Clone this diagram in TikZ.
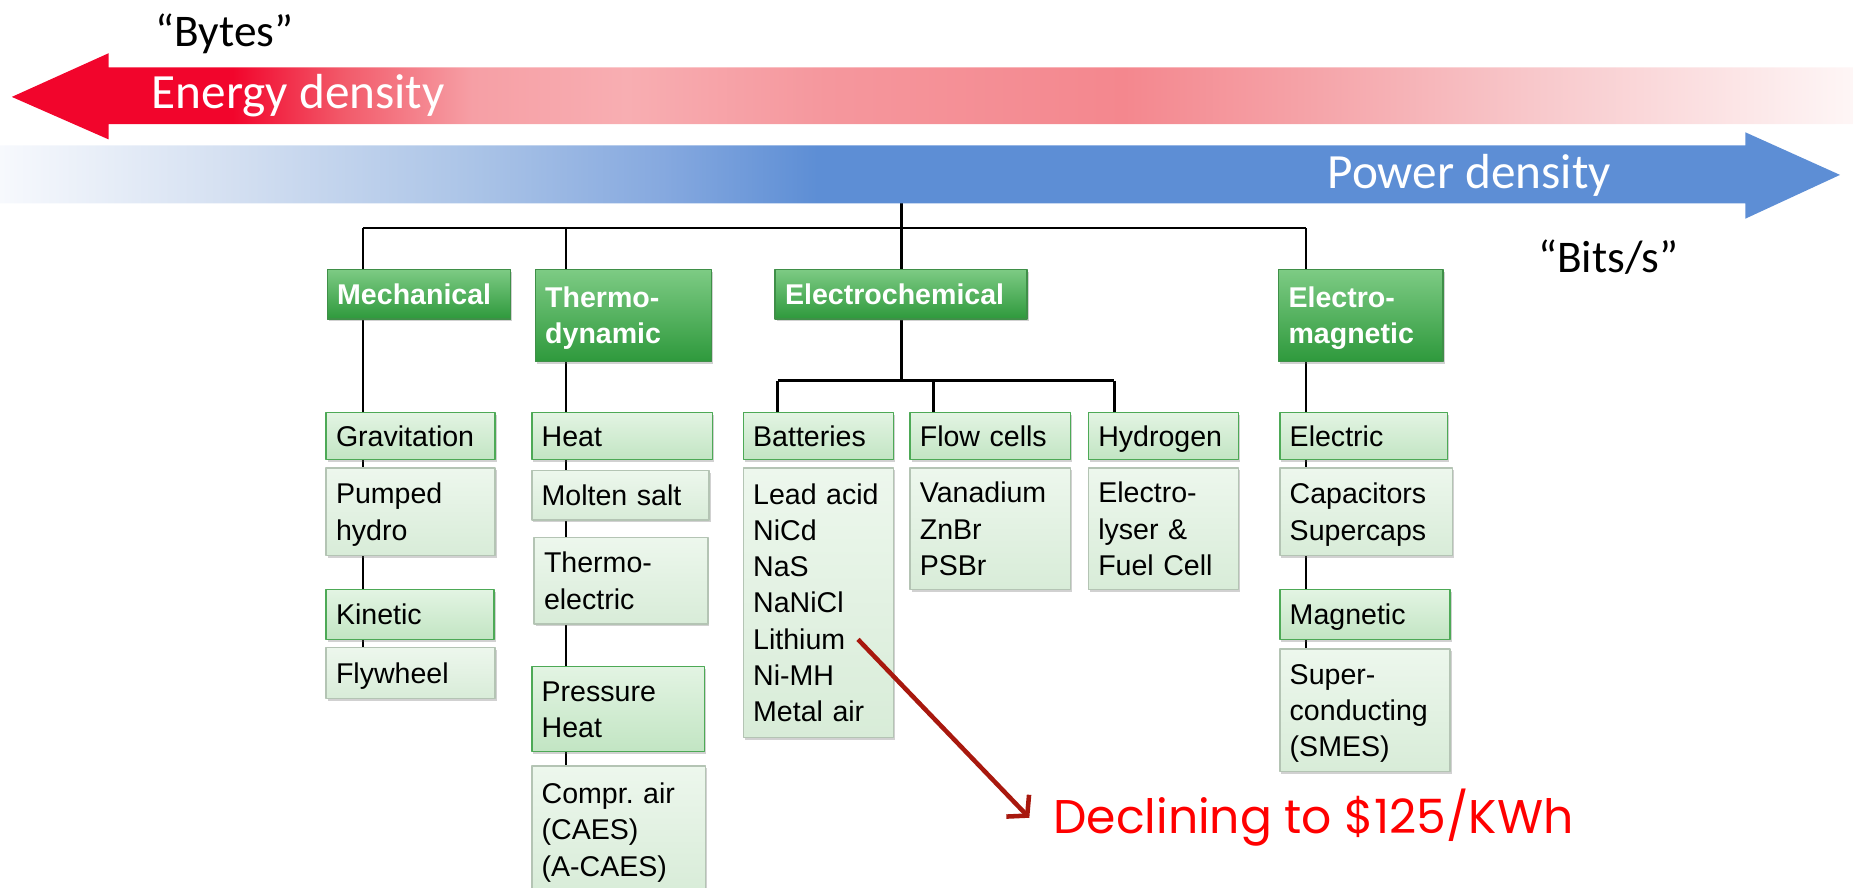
\documentclass[tikz,border=0pt]{standalone}
\usepackage{fontspec}
\setmainfont{Liberation Sans}
\newfontfamily\calfont{Carlito}
\newfontfamily\gothfont{Poppins}
\usetikzlibrary{arrows.meta,shadows,backgrounds}

\definecolor{enA}{HTML}{F2052C}
\definecolor{enB}{HTML}{F25A6A}
\definecolor{enC}{HTML}{F69FA5}
\definecolor{enD}{HTML}{F8AEB2}
\definecolor{enE}{HTML}{F5979D}
\definecolor{enF}{HTML}{F4878E}
\definecolor{enG}{HTML}{F5A2A7}
\definecolor{enH}{HTML}{F8C8CB}
\definecolor{enI}{HTML}{FEF6F6}
\definecolor{pwA}{HTML}{F7F9FD}
\definecolor{pwB}{HTML}{D3DFF1}
\definecolor{pwC}{HTML}{ABC4E7}
\definecolor{pwD}{HTML}{86A9DF}
\definecolor{pwE}{HTML}{5D8ED5}
\definecolor{hdrtop}{HTML}{7DCB84}
\definecolor{hdrbot}{HTML}{2E993C}
\definecolor{hdrline}{HTML}{3F8F48}
\definecolor{midtop}{HTML}{E3F4E3}
\definecolor{midbot}{HTML}{C2E5C3}
\definecolor{midline}{HTML}{4DA956}
\definecolor{leaftop}{HTML}{EDF7ED}
\definecolor{leafbot}{HTML}{D8ECD8}
\definecolor{leafline}{HTML}{B4C4B4}
\definecolor{lithred}{HTML}{A8180E}

\pgfdeclarehorizontalshading{energyband}{100bp}{color(0bp)=(enA); color(31bp)=(enA);
  color(34bp)=(enB); color(37.5bp)=(enC); color(41.7bp)=(enD); color(47.1bp)=(enE);
  color(55.2bp)=(enF); color(60bp)=(enG); color(66.4bp)=(enH); color(75bp)=(enI);
  color(100bp)=(enI)}
\pgfdeclarehorizontalshading{powerband}{100bp}{color(0bp)=(pwA); color(25bp)=(pwA);
  color(31.4bp)=(pwB); color(37.8bp)=(pwC); color(43bp)=(pwD); color(47.2bp)=(pwE);
  color(75bp)=(pwE); color(100bp)=(pwE)}

\newcommand{\boxfont}{\fontsize{14.5}{18.4}\selectfont\frenchspacing}
\newcommand{\boxstrut}{\rule[-4pt]{0pt}{18.4pt}}

\tikzset{
  boxbase/.style={align=left, inner xsep=5pt, inner ysep=1pt, line width=0.8pt,
    font=\boxfont, execute at begin node=\boxstrut, execute at end node=\boxstrut,
    drop shadow={shadow xshift=0.8pt, shadow yshift=-1.2pt, opacity=0.3, fill=black!60}},
  hdr/.style={boxbase, draw=hdrline, top color=hdrtop, bottom color=hdrbot, text=white, font=\boxfont\bfseries},
  mid/.style={boxbase, draw=midline, top color=midtop, bottom color=midbot},
  leaf/.style={boxbase, draw=leafline, top color=leaftop, bottom color=leafbot},
  tree/.style={line width=1.3pt, black},
  bandtext/.style={anchor=west, inner sep=0pt, text=white, font=\calfont\fontsize{25}{30}\selectfont},
  scaletext/.style={inner sep=0pt, font=\calfont\fontsize{23}{28}\selectfont},
}

\begin{document}
\begin{tikzpicture}[>=latex, line join=bevel, x=0.6pt, y=-0.6pt]
\useasboundingbox (0,0) rectangle (1568,751);
%%
\shade[shading=energyband] (10,82) -- (92,45) -- (92,57) -- (1568,57) -- (1568,105) -- (92,105) -- (92,118) -- cycle;
\shade[shading=powerband] (0,123) -- (1477,123) -- (1477,112) -- (1557,148) -- (1477,185) -- (1477,172) -- (0,172) -- cycle;
\node (node_energy) at (128,81) [bandtext] {Energy density};
\node (node_power) at (1123,148) [bandtext] {Power density};
\node (node_bytes) at (190,29) [scaletext] {“Bytes”};
\node (node_bits) at (1361,218) [scaletext] {“Bits/s”};
%
\coordinate (bar_top) at (763,172);
\coordinate (bar_m) at (307,193);
\coordinate (bar_t) at (479,193);
\coordinate (bar_e) at (763,193);
\coordinate (bar_em) at (1105,193);
\coordinate (sub_b) at (658,322);
\coordinate (sub_f) at (790,322);
\coordinate (sub_h) at (943,322);
%
\node (node_mech) at (354.5,249) [hdr, text width=83pt, minimum height=25.2pt] {Mechanical};
\node (node_thermo) at (527.5,267) [hdr, text width=79.4pt, minimum height=46.8pt] {Thermo-\\dynamic};
\node (node_echem) at (762.5,249) [hdr, text width=117.8pt, minimum height=25.2pt] {Electrochemical};
\node (node_emag) at (1151.5,267) [hdr, text width=73.4pt, minimum height=46.8pt] {Electro-\\magnetic};
%
\node (node_grav) at (347.5,369) [mid, text width=75.8pt, minimum height=24pt] {Gravitation};
\node (node_pump) at (347.5,433) [leaf, text width=75.8pt, minimum height=44.4pt] {Pumped\\hydro};
\node (node_kin) at (347,520) [mid, text width=75.2pt, minimum height=25.2pt] {Kinetic};
\node (node_fly) at (347.5,569.5) [leaf, text width=75.8pt, minimum height=25.8pt] {Flywheel};
%
\node (node_heat) at (526.5,369) [mid, text width=81.8pt, minimum height=24pt] {Heat};
\node (node_molt) at (525,419) [leaf, text width=80pt, minimum height=25.2pt] {Molten salt};
\node (node_thel) at (525.5,491.5) [leaf, text width=78.2pt, minimum height=43.8pt] {Thermo-\\electric};
\node (node_pres) at (523,600) [mid, text width=77.6pt, minimum height=43.2pt] {Pressure\\Heat};
\node (node_caes) at (523.5,702) [leaf, text width=78.2pt, minimum height=64.8pt] {Compr. air\\(CAES)\\(A-CAES)};
%
\node (node_batt) at (692.5,369) [mid, text width=66.2pt, minimum height=24pt] {Batteries};
\node (node_flow) at (838,369) [mid, text width=71.6pt, minimum height=24pt] {Flow cells};
\node (node_hydr) at (984.5,369) [mid, text width=66.2pt, minimum height=24pt] {Hydrogen};
\node (node_batl) at (692.5,510) [leaf, text width=66.2pt, minimum height=136.8pt] {Lead acid\\NiCd\\NaS\\NaNiCl\\Lithium\\Ni-MH\\Metal air};
\node (node_flol) at (838,447.5) [leaf, text width=71.6pt, minimum height=61.8pt] {Vanadium\\ZnBr\\PSBr};
\node (node_hydl) at (984.5,447.5) [leaf, text width=66.2pt, minimum height=61.8pt] {Electro-\\lyser \&\\Fuel Cell};
%
\node (node_elec) at (1154,369) [mid, text width=75.2pt, minimum height=24pt] {Electric};
\node (node_capa) at (1156,433) [leaf, text width=77.6pt, minimum height=44.4pt] {Capacitors\\Supercaps};
\node (node_magn) at (1155,520) [mid, text width=76.4pt, minimum height=25.2pt] {Magnetic};
\node (node_smes) at (1155,601) [leaf, text width=76.4pt, minimum height=62.4pt] {Super-\\conducting\\(SMES)};
%
\begin{scope}[on background layer]
  \draw [tree] (bar_top) -- (bar_e);
  \draw [tree] (bar_m) -- (bar_em);
  \draw [tree] (bar_m) -- (bar_m |- node_mech.north);
  \draw [tree] (bar_t) -- (bar_t |- node_thermo.north);
  \draw [tree] (bar_e) -- (bar_e |- node_echem.north);
  \draw [tree] (bar_em) -- (bar_em |- node_emag.north);
  \foreach \a/\b in {node_mech/node_grav, node_grav/node_pump, node_pump/node_kin, node_kin/node_fly}
    \draw [tree] (bar_m |- \a.south) -- (bar_m |- \b.north);
  \foreach \a/\b in {node_thermo/node_heat, node_heat/node_molt, node_molt/node_thel, node_thel/node_pres, node_pres/node_caes}
    \draw [tree] (bar_t |- \a.south) -- (bar_t |- \b.north);
  \foreach \a/\b in {node_emag/node_elec, node_elec/node_capa, node_capa/node_magn, node_magn/node_smes}
    \draw [tree] (bar_em |- \a.south) -- (bar_em |- \b.north);
  \draw [tree] (bar_e |- node_echem.south) -- (bar_e |- sub_b);
  \draw [tree] (sub_b) -- (sub_h);
  \foreach \c/\n in {sub_b/node_batt, sub_f/node_flow, sub_h/node_hydr}
    \draw [tree] (\c) -- (\c |- \n.north);
\end{scope}
%
\coordinate (lith) at (726,541);
\node (node_decl) at (891,692) [anchor=west, inner sep=0pt, text=red, font=\gothfont\fontsize{24}{29}\selectfont] {Declining to \$125/KWh};
\draw [lithred, line width=2.3pt, -{Straight Barb[length=7pt,width=16pt]}] (lith) -- ([xshift=-12pt]node_decl.west);
%
\end{tikzpicture}
\end{document}
